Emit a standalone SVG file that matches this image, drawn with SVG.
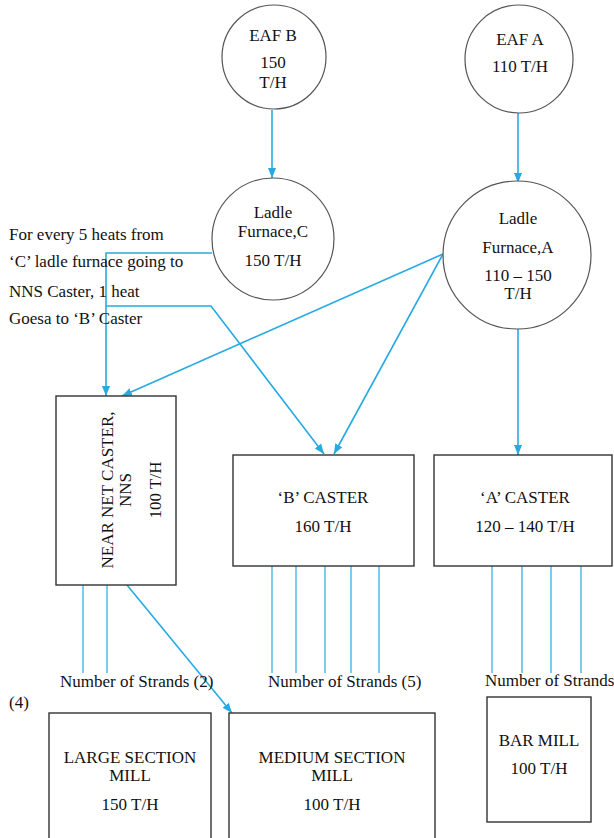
<svg xmlns="http://www.w3.org/2000/svg" width="614" height="838" viewBox="0 0 614 838">
<style>
text{font-family:"Liberation Serif","Times New Roman",serif;font-size:17px;fill:#111}
.c{text-anchor:middle}
.circ{fill:#fff;stroke:#555;stroke-width:1.2}
.box{fill:#fff;stroke:#333;stroke-width:1.4}
.ln{fill:none;stroke:#27aae1;stroke-width:1.6}
.st{fill:none;stroke:#27aae1;stroke-width:1.2}
</style>
<defs>
<marker id="ah" viewBox="0 0 10 10" refX="10" refY="5" markerWidth="10" markerHeight="10" markerUnits="userSpaceOnUse" orient="auto">
<path d="M0,1 L10,5 L0,9 z" fill="#27aae1"/>
</marker>
</defs>
<rect width="614" height="838" fill="#fff"/>
<g id="connectors">
<line class="ln" x1="272" y1="110" x2="272" y2="178" marker-end="url(#ah)"/>
<line class="ln" x1="518" y1="113" x2="518" y2="183" marker-end="url(#ah)"/>
<polyline class="ln" points="212,253 106,253 106,396" marker-end="url(#ah)"/>
<polyline class="ln" points="106,306 211,306 324,454" marker-end="url(#ah)"/>
<line class="ln" x1="443" y1="254" x2="334" y2="454" marker-end="url(#ah)"/>
<line class="ln" x1="443" y1="254" x2="122" y2="396" marker-end="url(#ah)"/>
<line class="ln" x1="518" y1="327" x2="518" y2="455" marker-end="url(#ah)"/>
<line class="ln" x1="127" y1="585" x2="232" y2="713" marker-end="url(#ah)"/>
<g id="strands">
<line class="st" x1="83" y1="585" x2="83" y2="673"/>
<line class="st" x1="107" y1="585" x2="107" y2="673"/>
<line class="st" x1="272" y1="566" x2="272" y2="673"/>
<line class="st" x1="296" y1="566" x2="296" y2="673"/>
<line class="st" x1="325" y1="566" x2="325" y2="673"/>
<line class="st" x1="351" y1="566" x2="351" y2="673"/>
<line class="st" x1="379" y1="566" x2="379" y2="673"/>
<line class="st" x1="492" y1="566" x2="492" y2="673"/>
<line class="st" x1="522" y1="566" x2="522" y2="673"/>
<line class="st" x1="551" y1="566" x2="551" y2="673"/>
<line class="st" x1="581" y1="566" x2="581" y2="673"/>
</g>
</g>
<g id="eafB">
<circle class="circ" cx="274" cy="57" r="52"/>
<text class="c" x="273" y="41">EAF B</text>
<text class="c" x="273" y="68">150</text>
<text class="c" x="273" y="88">T/H</text>
</g>
<g id="eafA">
<circle class="circ" cx="519" cy="59" r="54"/>
<text class="c" x="520" y="45">EAF A</text>
<text class="c" x="520" y="72">110 T/H</text>
</g>
<g id="ladleC">
<circle class="circ" cx="273" cy="239" r="61"/>
<text class="c" x="273" y="218">Ladle</text>
<text class="c" x="273" y="237">Furnace,C</text>
<text class="c" x="273" y="266">150 T/H</text>
</g>
<g id="ladleA">
<circle class="circ" cx="517" cy="255" r="74"/>
<text class="c" x="518" y="224">Ladle</text>
<text class="c" x="518" y="253">Furnace,A</text>
<text class="c" x="518" y="281">110 – 150</text>
<text class="c" x="518" y="299">T/H</text>
</g>
<g id="note">
<text x="9" y="240">For every 5 heats from</text>
<text x="9" y="267">‘C’ ladle furnace going to</text>
<text x="9" y="297">NNS Caster, 1 heat</text>
<text x="9" y="324">Goesa to ‘B’ Caster</text>
</g>
<g id="nns">
<rect class="box" x="56" y="396" width="120" height="189"/>
<g transform="translate(0,490) rotate(-90)">
<text class="c" x="0" y="113">NEAR NET CASTER,</text>
<text class="c" x="0" y="131">NNS</text>
<text class="c" x="0" y="161">100 T/H</text>
</g>
</g>
<g id="casterB">
<rect class="box" x="233" y="455" width="181" height="111"/>
<text class="c" x="323" y="503">‘B’ CASTER</text>
<text class="c" x="323" y="532">160 T/H</text>
</g>
<g id="casterA">
<rect class="box" x="434" y="455" width="178" height="111"/>
<text class="c" x="525" y="503">‘A’ CASTER</text>
<text class="c" x="525" y="532">120 – 140 T/H</text>
</g>
<g id="strandLabels">
<text x="60" y="687">Number of Strands (2)</text>
<text x="268" y="687">Number of Strands (5)</text>
<text x="485" y="686">Number of Strands</text>
<text x="9" y="708">(4)</text>
</g>
<g id="largeMill">
<rect class="box" x="49" y="713" width="162" height="140"/>
<text class="c" x="130" y="763">LARGE SECTION</text>
<text class="c" x="130" y="781">MILL</text>
<text class="c" x="130" y="810">150 T/H</text>
</g>
<g id="mediumMill">
<rect class="box" x="229" y="713" width="206" height="140"/>
<text class="c" x="332" y="763">MEDIUM SECTION</text>
<text class="c" x="332" y="781">MILL</text>
<text class="c" x="332" y="810">100 T/H</text>
</g>
<g id="barMill">
<rect class="box" x="487" y="697" width="104" height="125"/>
<text class="c" x="539" y="746">BAR MILL</text>
<text class="c" x="539" y="774">100 T/H</text>
</g>
</svg>
